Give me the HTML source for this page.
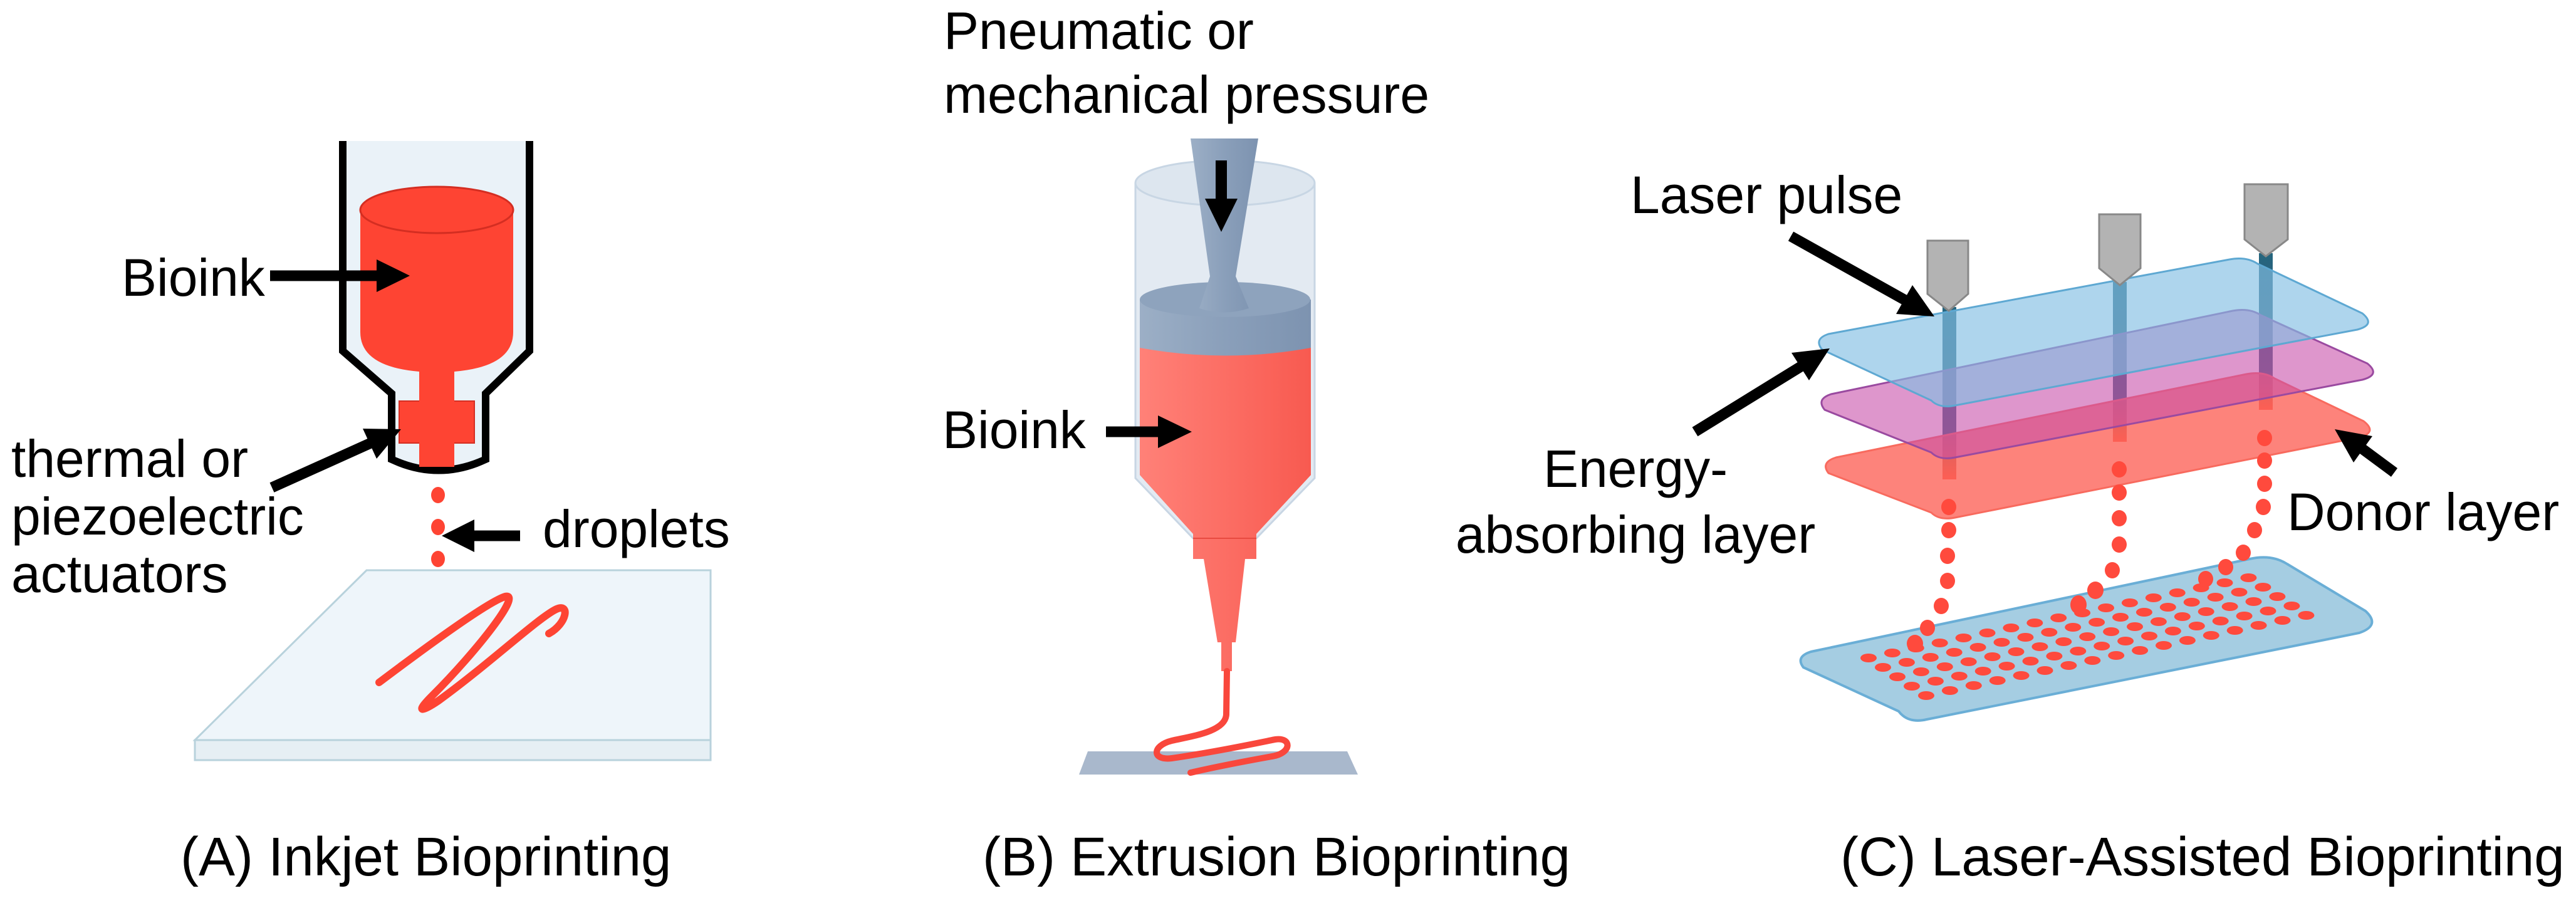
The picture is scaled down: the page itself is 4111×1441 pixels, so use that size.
<!DOCTYPE html>
<html><head><meta charset="utf-8">
<style>
html,body{margin:0;padding:0;background:#fff;}
svg{display:block;}
text{font-family:"Liberation Sans",Arial,sans-serif;fill:#000;}
</style></head>
<body>
<svg id="s" width="4111" height="1441" viewBox="0 0 4111 1441" xmlns="http://www.w3.org/2000/svg">
<defs>
<linearGradient id="redB" x1="0" x2="1" y1="0" y2="0">
<stop offset="0" stop-color="#ff8178"/><stop offset="1" stop-color="#f85a50"/></linearGradient>
<linearGradient id="grayB" x1="0" x2="1" y1="0" y2="0">
<stop offset="0" stop-color="#9cafc6"/><stop offset="0.5" stop-color="#8a9fba"/><stop offset="1" stop-color="#7d93b0"/></linearGradient>
<linearGradient id="beam" x1="0" x2="0" y1="0" y2="1">
<stop offset="0" stop-color="#25657e"/><stop offset="0.75" stop-color="#3d5f7c"/><stop offset="1" stop-color="#ff4b3e"/></linearGradient>
</defs>

<!-- ===== Panel A ===== -->
<path d="M547,225 L547,560 L625,628 L625,733 Q700,768 775,733 L775,628 L845,560 L845,225" fill="#eaf2f8" stroke="#000" stroke-width="12" stroke-linejoin="miter"/>
<path d="M575,335 L575,530 Q575,585 669,593 L669,745 L725,745 L725,593 Q819,585 819,530 L819,335 Z" fill="#fe4433"/>
<ellipse cx="697" cy="335" rx="122" ry="37" fill="#fe4433" stroke="#d42e22" stroke-width="3"/>
<rect x="637" y="640" width="120" height="67" fill="#fe4433" stroke="#d42e22" stroke-width="2"/>
<rect x="669" y="600" width="56" height="145" fill="#fe4433"/>
<g fill="#fe4433">
<ellipse cx="699" cy="790" rx="11" ry="13"/>
<ellipse cx="699" cy="841" rx="11" ry="13"/>
<ellipse cx="699" cy="892" rx="11" ry="13"/>
<ellipse cx="699" cy="942" rx="11" ry="13"/>
</g>
<polygon points="585,910 1134,910 1134,1181 311,1181" fill="#eef5fa" stroke="#b8d2dc" stroke-width="3"/>
<rect x="311" y="1181" width="823" height="32" fill="#e6eff4" stroke="#b8d2dc" stroke-width="3"/>
<path d="M605,1089 C690,1025 780,960 806,952 C835,945 760,1040 690,1110 C660,1140 675,1135 700,1118 C780,1060 860,985 888,972 C910,962 905,995 876,1011" fill="none" stroke="#fe4433" stroke-width="12" stroke-linecap="round"/>
<text x="194" y="472" font-size="84">Bioink</text>
<line x1="431" y1="440" x2="606" y2="440" stroke="#000" stroke-width="17"/>
<polygon points="601,414 654,440 601,466" fill="#000"/>
<text x="18" y="761" font-size="84">thermal or</text>
<text x="18" y="853" font-size="84">piezoelectric</text>
<text x="18" y="945" font-size="84">actuators</text>
<line x1="434" y1="778" x2="596" y2="705" stroke="#000" stroke-width="17"/>
<polygon points="601,732 640,685 579,684" fill="#000"/>
<line x1="830" y1="855" x2="752" y2="855" stroke="#000" stroke-width="17"/>
<polygon points="757,829 705,855 757,881" fill="#000"/>
<text x="866" y="873" font-size="84">droplets</text>
<text x="288" y="1397" font-size="87">(A) Inkjet Bioprinting</text>

<!-- ===== Panel B ===== -->
<text x="1506" y="78" font-size="84">Pneumatic or</text>
<text x="1506" y="180" font-size="84">mechanical pressure</text>
<path d="M1812,292 L1812,763 L1904,859 L2005,859 L2098,763 L2098,292" fill="#e3eaf2" stroke="#c8d6e4" stroke-width="3"/>
<ellipse cx="1955" cy="292" rx="143" ry="36" fill="#dde6ef" stroke="#c8d6e4" stroke-width="3"/>
<path d="M1819,540 L1819,758 L1904,852 L1904,892 L1921,892 L1943,1025 L1949,1025 L1949,1071 L1966,1071 L1966,1025 L1972,1025 L1987,892 L2005,892 L2005,852 L2092,758 L2092,540 Z" fill="url(#redB)"/>
<line x1="1904" y1="859" x2="2005" y2="859" stroke="#e84a40" stroke-width="2"/>
<path d="M1819,478 L1819,555 Q1955,580 2092,555 L2092,478 Z" fill="url(#grayB)"/>
<ellipse cx="1955" cy="478" rx="136" ry="28" fill="#8ea3bd"/>
<path d="M1900,221 L2008,221 L1972,441 L1993,492 Q1953,505 1914,492 L1931,441 Z" fill="url(#grayB)"/>
<line x1="1949" y1="256" x2="1949" y2="322" stroke="#000" stroke-width="18"/>
<polygon points="1923,317 1949,370 1975,317" fill="#000"/>
<text x="1504" y="715" font-size="84">Bioink</text>
<line x1="1765" y1="689" x2="1853" y2="689" stroke="#000" stroke-width="17"/>
<polygon points="1848,663 1902,689 1848,715" fill="#000"/>
<polygon points="1736,1199 2150,1199 2167,1236 1722,1236" fill="#a9b8cc"/>
<path d="M1958,1071 L1957,1140 C1956,1168 1900,1175 1870,1182 C1838,1190 1838,1214 1870,1210 C1940,1200 2010,1185 2035,1180 C2062,1176 2062,1202 2030,1207 C1980,1216 1930,1226 1900,1233" fill="none" stroke="#f9473c" stroke-width="10" stroke-linecap="round"/>
<text x="1568" y="1397" font-size="87">(B) Extrusion Bioprinting</text>

<!-- ===== Panel C ===== -->
<path d="M2890,1040 L3590,892 Q3625,884 3650,900 L3775,975 Q3800,998 3765,1010 L3075,1148 Q3045,1155 3030,1135 L2878,1065 Q2865,1048 2890,1040 Z" fill="#a5cde2" stroke="#6aaed6" stroke-width="4"/>
<g id="dots" fill="#ff4a3d"></g>
<rect x="3100" y="490" width="22" height="275" fill="url(#beam)"/>
<rect x="3372" y="450" width="22" height="255" fill="url(#beam)"/>
<rect x="3605" y="404" width="22" height="250" fill="url(#beam)"/>
<path d="M2930,730 L3585,597 Q3612,592 3630,604 L3772,672 Q3795,690 3765,698 L3120,826 Q3095,831 3082,818 L2918,755 Q2905,738 2930,730 Z" fill="rgba(252,100,90,0.8)" stroke="#f86a5e" stroke-width="3"/>
<path d="M2922,629 L3563,496 Q3590,491 3608,503 L3778,580 Q3800,598 3770,606 L3120,730 Q3095,735 3082,722 L2912,654 Q2898,637 2922,629 Z" fill="rgba(200,80,170,0.6)" stroke="#9a4aa0" stroke-width="3"/>
<path d="M2918,533 L3558,414 Q3585,409 3603,421 L3770,500 Q3792,518 3762,526 L3120,647 Q3095,652 3082,639 L2908,558 Q2894,541 2918,533 Z" fill="rgba(130,190,228,0.65)" stroke="#5ea8d2" stroke-width="3"/>
<path d="M3076,384 L3141,384 L3141,469 L3110,496 L3076,469 Z" fill="#b3b3b3" stroke="#888" stroke-width="3"/>
<path d="M3350,342 L3416,342 L3416,428 L3383,455 L3350,428 Z" fill="#b3b3b3" stroke="#888" stroke-width="3"/>
<path d="M3582,294 L3651,294 L3651,382 L3616,409 L3582,382 Z" fill="#b3b3b3" stroke="#888" stroke-width="3"/>
<g fill="#ff4a3d">
<ellipse cx="3110" cy="809" rx="12" ry="13"/><ellipse cx="3110" cy="846" rx="12" ry="13"/>
<ellipse cx="3108" cy="887" rx="12" ry="13"/><ellipse cx="3108" cy="927" rx="12" ry="13"/>
<ellipse cx="3098" cy="967" rx="12" ry="13"/><ellipse cx="3076" cy="1002" rx="12" ry="13"/>
<ellipse cx="3056" cy="1027" rx="13" ry="14"/>
<ellipse cx="3382" cy="749" rx="12" ry="13"/><ellipse cx="3382" cy="786" rx="12" ry="13"/>
<ellipse cx="3382" cy="827" rx="12" ry="13"/><ellipse cx="3382" cy="869" rx="12" ry="13"/>
<ellipse cx="3371" cy="910" rx="12" ry="13"/><ellipse cx="3344" cy="942" rx="13" ry="14"/>
<ellipse cx="3317" cy="965" rx="13" ry="15"/>
<ellipse cx="3614" cy="699" rx="12" ry="13"/><ellipse cx="3614" cy="735" rx="12" ry="13"/>
<ellipse cx="3614" cy="772" rx="12" ry="13"/><ellipse cx="3612" cy="809" rx="12" ry="13"/>
<ellipse cx="3598" cy="846" rx="12" ry="13"/><ellipse cx="3580" cy="882" rx="12" ry="13"/>
<ellipse cx="3552" cy="905" rx="12" ry="13"/><ellipse cx="3520" cy="924" rx="12" ry="13"/>
</g>
<text x="2602" y="340" font-size="84">Laser pulse</text>
<line x1="2858" y1="377" x2="3044" y2="481" stroke="#000" stroke-width="17"/>
<polygon points="3026,501 3087,505 3052,455" fill="#000"/>
<text x="2610" y="777" font-size="84" text-anchor="middle">Energy-</text>
<text x="2610" y="882" font-size="84" text-anchor="middle">absorbing layer</text>
<line x1="2705" y1="689" x2="2877" y2="583" stroke="#000" stroke-width="17"/>
<polygon points="2887,607 2920,556 2859,563" fill="#000"/>
<text x="3650" y="846" font-size="84">Donor layer</text>
<line x1="3821" y1="754" x2="3767" y2="714" stroke="#000" stroke-width="17"/>
<polygon points="3786,696 3726,685 3756,738" fill="#000"/>
<text x="2937" y="1397" font-size="87">(C) Laser-Assisted Bioprinting</text>
</svg>
<script>
(function(){
var g=document.getElementById('dots'),ns='http://www.w3.org/2000/svg';
var ox=2982,oy=1050,ux=37.9,uy=-8,vx=23,vy=15;
for(var r=0;r<5;r++){for(var c=0;c<17;c++){
var e=document.createElementNS(ns,'ellipse');
e.setAttribute('cx',(ox+c*ux+r*vx).toFixed(1));
e.setAttribute('cy',(oy+c*uy+r*vy).toFixed(1));
e.setAttribute('rx','13');e.setAttribute('ry','7');
g.appendChild(e);}}
})();
</script>
</body></html>
